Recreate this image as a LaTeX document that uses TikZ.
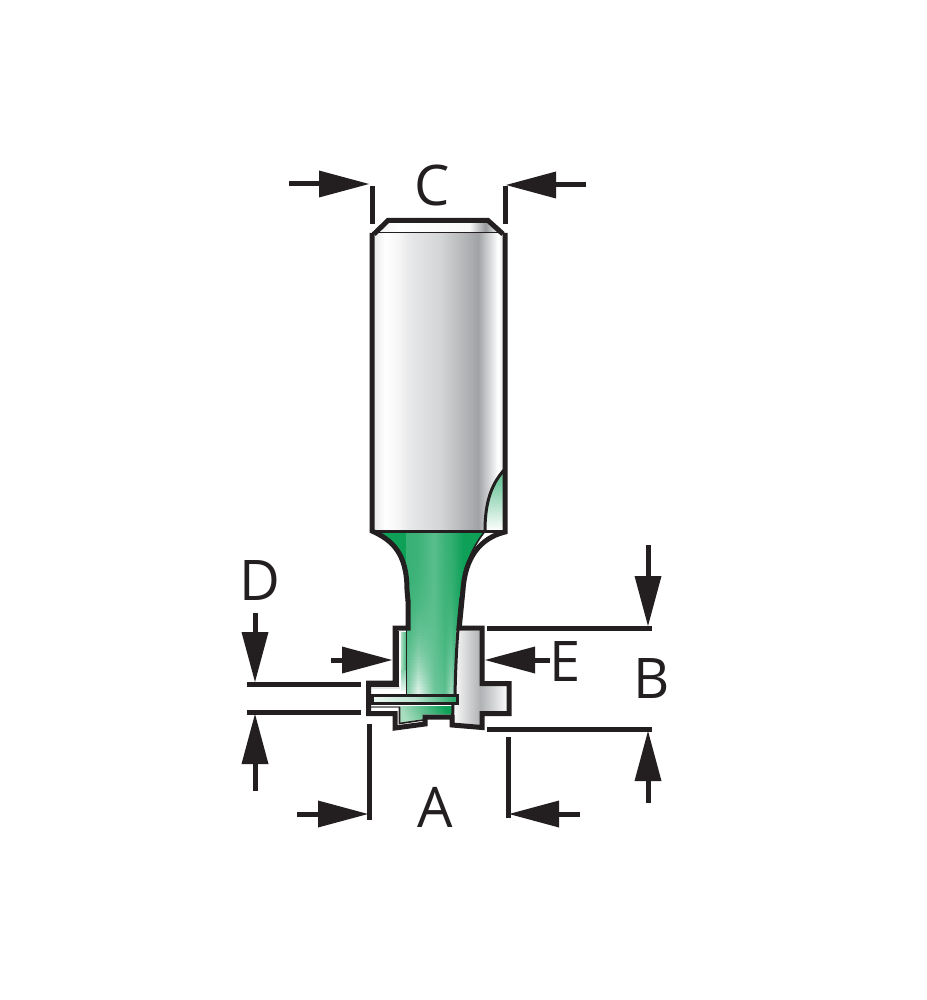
\documentclass[tikz,border=0pt]{standalone}
\usepackage{fontspec}
\setmainfont{Open Sans}
\usetikzlibrary{arrows.meta}
\definecolor{ink}{HTML}{231F20}
\definecolor{grn}{HTML}{22A866}
\definecolor{grnd}{HTML}{0FA058}
\definecolor{grnl}{HTML}{A8DDBF}
\definecolor{gr}{HTML}{A9ABAE}
\pgfdeclarehorizontalshading{shankshade}{100bp}{
 color(0bp)=(white!75!gr); color(25bp)=(white!70!gr); color(29.9bp)=(white); color(34.8bp)=(white!90!gr);
 color(39.4bp)=(white!72!gr); color(50.8bp)=(white!50!gr); color(65.2bp)=(gr!95!black);
 color(69.7bp)=(white!55!gr); color(72.7bp)=(white); color(75bp)=(white!70!gr); color(100bp)=(white!70!gr)}
\pgfdeclarehorizontalshading{chamfershade}{100bp}{
 color(0bp)=(white!80!gr); color(25bp)=(white!80!gr); color(35bp)=(white); color(62bp)=(white!92!gr);
 color(68bp)=(gr!90!black); color(73bp)=(white!90!gr); color(75bp)=(white); color(100bp)=(white)}
\tikzset{
 dimline/.style={ink,line width=5pt,-{Triangle[length=50pt,width=27pt,line width=0pt]}},
 ext/.style={ink,line width=5pt},
 outline/.style={ink,line width=5pt,line join=miter},
 midline/.style={ink,line width=3pt,line join=miter},
 thinline/.style={ink,line width=1.6pt},
 letter/.style={text=ink,font=\fontsize{56}{56}\selectfont,inner sep=0pt},
}
\begin{document}
\begin{tikzpicture}[x=1pt,y=-1pt]
\useasboundingbox (0,0) rectangle (926,1000);
\fill[white] (0,0) rectangle (926,1000);
% shank
\shade[shading=shankshade] (372,233) rectangle (504,531);
\shade[shading=chamfershade] (372,233) -- (388,220) -- (488,220) -- (504,233) -- cycle;
% relief
\shade[bottom color=white,top color=grn!80!white] (505,468) .. controls (490,485) and (485,505) .. (485,531) -- (505,531) -- cycle;
% neck, its light bands growing downward
\begin{scope}
\clip (372,531) .. controls (392,540) and (407,553) .. (407,590) -- (407,694) -- (456,694) .. controls (457,650) and (459,625) .. (462,595) .. controls (464,565) and (472,548) .. (486,531) -- cycle;
\foreach \y in {531,534,...,693}{
 \pgfmathsetmacro\ff{((\y-531)/160)^3}
 \pgfmathsetmacro\pa{100-10-30*\ff}
 \pgfmathsetmacro\pb{100-12-75*\ff}
 \pgfmathsetmacro\pc{100-25-10*\ff}
 \pgfmathsetmacro\pd{100-12-15*\ff}
 \pgfmathsetmacro\pe{100-8-50*\ff}
 \fill[grnd] (372,\y) rectangle (408,\y+3.4);
 \shade[left color=grn!\pa!white,right color=grn!\pb!white] (406,\y) rectangle (418,\y+3.4);
 \shade[left color=grn!\pb!white,right color=grn!\pc!white] (417.8,\y) rectangle (434,\y+3.4);
 \shade[left color=grn!\pc!white,right color=grn!\pd!white] (433.8,\y) rectangle (445,\y+3.4);
 \shade[left color=grn!\pd!white,right color=grn!\pe!white] (444.8,\y) rectangle (451,\y+3.4);
 \shade[left color=grn!\pe!white,right color=grnd] (450.8,\y) rectangle (463,\y+3.4);
 \fill[grnd] (462.8,\y) rectangle (490,\y+3.4);
}
\end{scope}
% right wing of the cutter
\shade[left color=white!92!gr,right color=white!95!gr,middle color=gr!92!white] (456,631) -- (481,631) -- (481,685) -- (507,685) -- (507,711) -- (480,711) -- (480,725) -- (454,723) -- (454,700) -- cycle;
% left wing of the cutter
\shade[top color=white!92!gr,bottom color=white] (398,631) -- (406,631) -- (406,694) -- (371,694) -- (371,686) -- (398,686) -- cycle;
\fill[white!68!gr] (371,686) rectangle (400,688.5);
\shade[left color=grnl,right color=grn!80!white] (401,632) rectangle (406,670);
\shade[top color=grn!55!white,bottom color=white!90!grn] (401,670) rectangle (406,690);
% lower flange and green foot
\fill[white] (371,703) -- (399,703) -- (399,711) -- (371,711) -- cycle;
\shade[shading=axis,bottom color=grnl,top color=grnd,shading angle=-60] (400,706) -- (453,706) -- (453,714.5) -- (423,714.5) -- (423,719) -- (400,723) -- cycle;
% strip
\shade[left color=white!92!grn,right color=grn,middle color=white!70!grn] (372,696) rectangle (457,703);
% inner lines
\draw[thinline] (406.5,629) -- (406.5,695);
\draw[thinline] (398,631) -- (398,686) -- (371,686);
\draw[thinline,gray] (371,707) -- (399.5,707);
\draw[thinline] (399.5,707) -- (399.5,723.5) -- (423,720);
\draw[midline] (372,695.5) rectangle (457.5,703.5);
% outlines
\draw[outline] (408,600) -- (408,628) -- (395,628) -- (395,683) -- (368.5,683) -- (368.5,713.5) -- (395,713.5) -- (395,728) -- (425,724) -- (425,717) -- (452,717) -- (452,725) -- (482,727.5) -- (482,713.5) -- (509,713.5) -- (509,683.5) -- (482,683.5) -- (482,628) -- (459,628);
\draw[midline] (453,704) -- (452.5,722);
\draw[midline] (455,695) .. controls (456,650) and (458,625) .. (461,597);
\draw[outline] (374,234) -- (388,220.5) -- (488,220.5) -- (503,234);
\draw[outline] (372,233) -- (372,531) .. controls (392,540) and (407,553) .. (407,590) -- (408,601);
\draw[outline] (505,233) -- (505,532) .. controls (480,538) and (465,558) .. (463,590) -- (459,630);
\draw[thinline] (372,232.5) -- (504,232.5);
\draw[midline] (372,531) -- (505,531);
\draw[midline] (505,469) .. controls (490,485) and (485,505) .. (485,531);
\draw[thinline] (485,531) .. controls (472,548) and (464,565) .. (461,595);
% extension lines
\draw[ext] (372,186) -- (372,224);
\draw[ext] (505,186) -- (505,224);
\draw[ext] (247,684) -- (361,684);
\draw[ext] (247,712) -- (361,712);
\draw[ext] (369,724) -- (369,820);
\draw[ext] (508,737) -- (508,818);
\draw[ext] (487,628) -- (652,628);
\draw[ext] (487,729) -- (652,729);
% dimension arrows
\coordinate (c1a) at (289,184); \coordinate (c1b) at (369,184);
\coordinate (c2a) at (586,185); \coordinate (c2b) at (506,185);
\coordinate (a1a) at (297,814); \coordinate (a1b) at (368,814);
\coordinate (a2a) at (580,814); \coordinate (a2b) at (509,814);
\coordinate (d1a) at (255,613); \coordinate (d1b) at (255,682);
\coordinate (d2a) at (255,791); \coordinate (d2b) at (255,714);
\coordinate (b1a) at (648,545); \coordinate (b1b) at (648,626);
\coordinate (b2a) at (648,803); \coordinate (b2b) at (648,731);
\coordinate (e1a) at (331,660); \coordinate (e1b) at (392,660);
\coordinate (e2a) at (550,660); \coordinate (e2b) at (485,660);
\foreach \a/\b in {c1a/c1b,c2a/c2b,a1a/a1b,a2a/a2b,d1a/d1b,d2a/d2b,b1a/b1b,b2a/b2b,e1a/e1b,e2a/e2b}
  \draw[dimline] (\a) -- (\b);
% letters
\node[letter] (lC) at (432,185) {C};
\node[letter] (lA) at (435,807) {A};
\node[letter] (lD) at (260,581) {D};
\node[letter] (lB) at (652,679) {B};
\node[letter] (lE) at (565,662) {E};
\end{tikzpicture}
\end{document}
